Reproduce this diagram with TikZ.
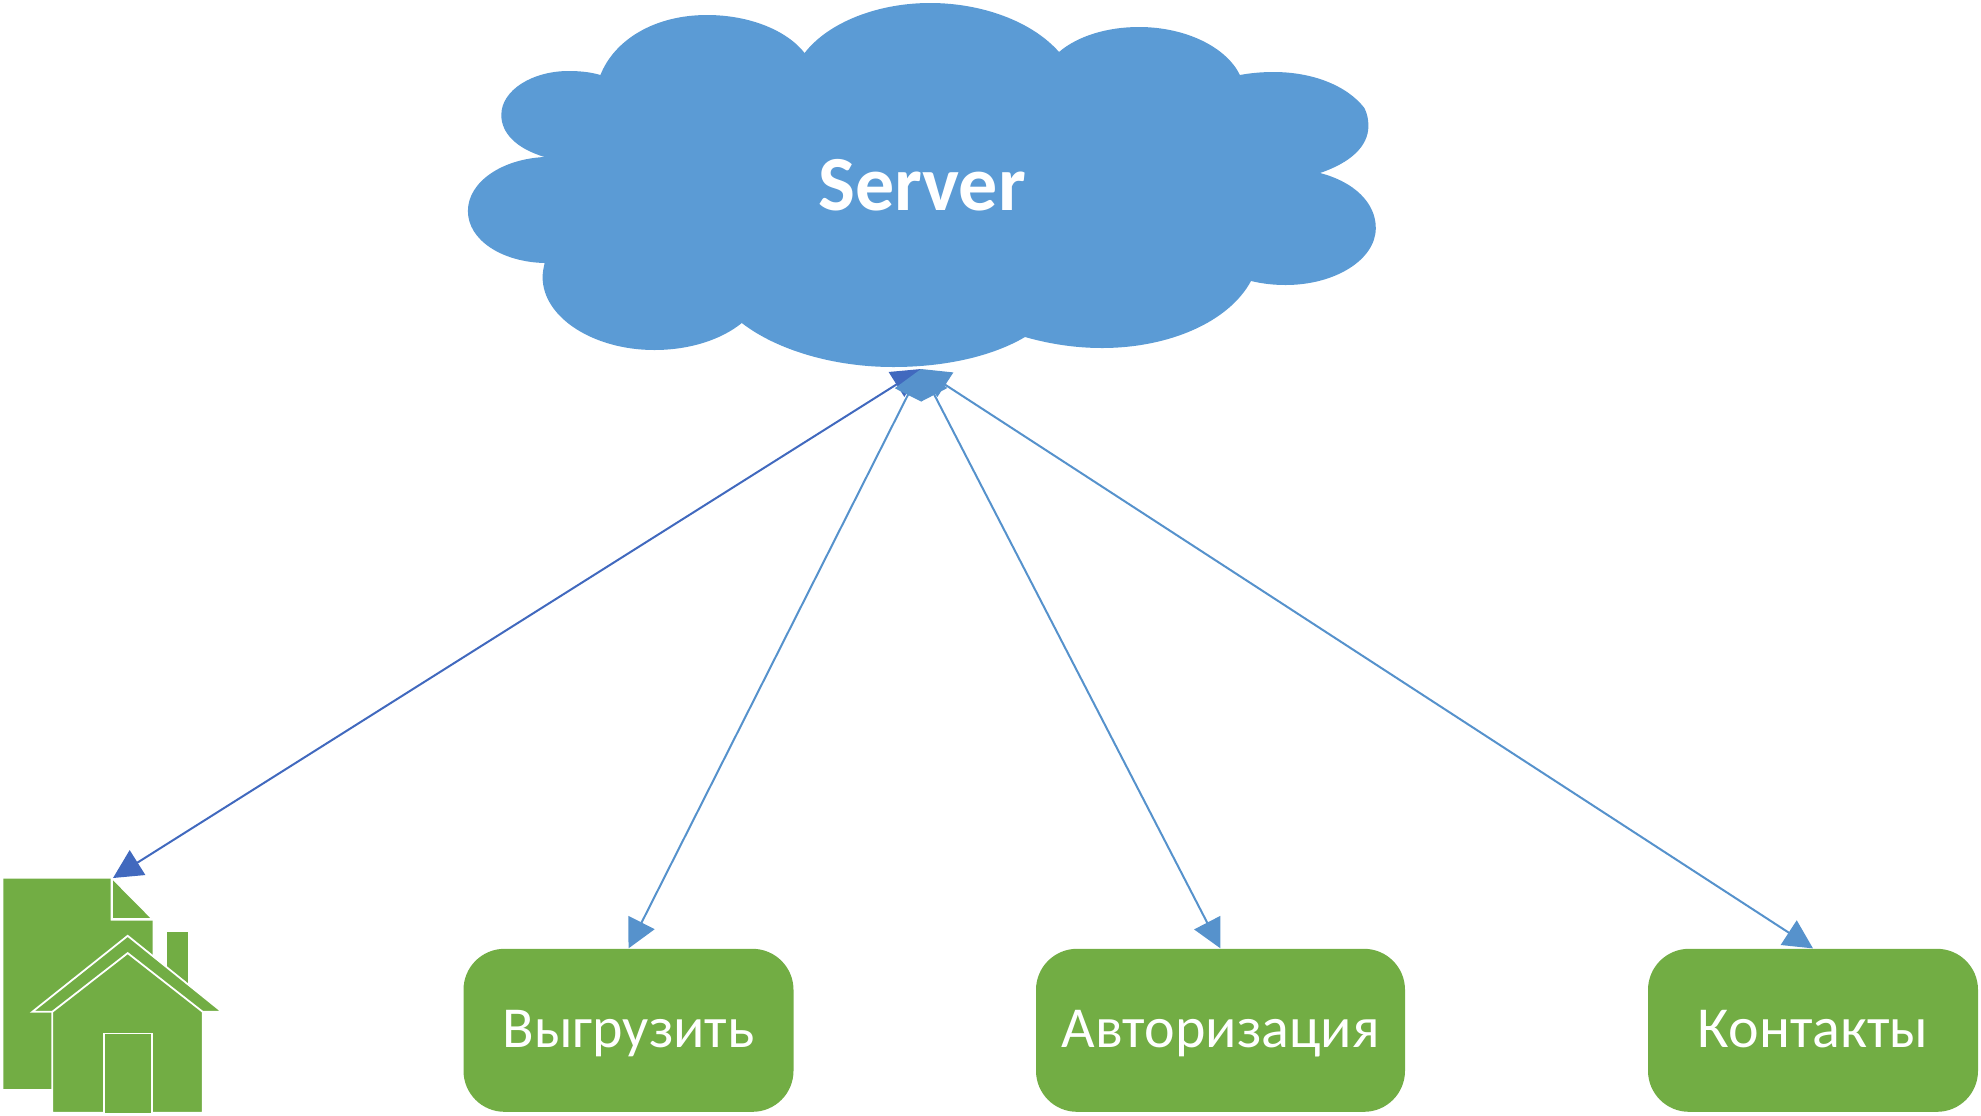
\documentclass[tikz,border=0pt]{standalone}
\usepackage{fontspec}
\setmainfont{Carlito}
\usetikzlibrary{arrows.meta}
\definecolor{cloudblue}{HTML}{5B9BD5}
\definecolor{arrowblue}{HTML}{5692CC}
\definecolor{homeblue}{HTML}{4169BE}
\definecolor{boxgreen}{HTML}{72AD44}
\tikzset{
	pagebox/.style={fill=boxgreen, text=white, rounded corners=20.5pt, minimum width=165pt, minimum height=81.5pt, inner sep=0pt, font=\fontsize{29}{29}\selectfont, text height=17.5pt, text depth=0pt},
	link/.style={line width=1pt, {Triangle[length=14.5pt,width=14.5pt]}-{Triangle[length=14.5pt,width=14.5pt]}},
	homepart/.style={fill=boxgreen, draw=white, line width=0.9pt, line join=miter}
}
\begin{document}
\begin{tikzpicture}[x=0.5pt, y=-0.5pt, line join=round]
	\useasboundingbox (0,0) rectangle (1981,1115);
	\path
	(921,369) coordinate (hub)
	(113,878) coordinate (home)
	;
	% cloud
	\fill[cloudblue] (544.6,157)
	.. controls (514.7,148) and (501.3,132) .. (501.3,115)
	.. controls (501.3,90) and (532.6,71) .. (568.5,71)
	.. controls (579.5,71) and (590.4,72) .. (600.4,75)
	.. controls (614.3,40) and (654.2,15) .. (707,15)
	.. controls (748.8,15) and (786.6,30) .. (804.6,53)
	.. controls (828.5,22) and (878.3,3) .. (930,3)
	.. controls (982.9,3) and (1032.7,22) .. (1059,52)
	.. controls (1077.5,36) and (1107.4,27) .. (1138.8,27)
	.. controls (1187,27) and (1226.9,48) .. (1239.9,75)
	.. controls (1250.8,73) and (1261.8,72) .. (1273.7,72)
	.. controls (1311.6,72) and (1346.5,85) .. (1364.4,108)
	.. controls (1367.4,114) and (1368.4,120) .. (1368.4,126)
	.. controls (1368.4,147) and (1349.4,163) .. (1320,173)
	.. controls (1354.4,182) and (1375.8,203) .. (1375.8,228)
	.. controls (1375.8,260) and (1334.5,285) .. (1285.7,285)
	.. controls (1274.7,285) and (1263.8,284) .. (1251,281)
	.. controls (1228.9,322) and (1169,348) .. (1101.9,348)
	.. controls (1075.5,348) and (1049.6,344) .. (1025,337)
	.. controls (992.8,356) and (946,367) .. (893.2,367)
	.. controls (833.5,367) and (776.7,350) .. (741.8,323)
	.. controls (720.9,340) and (689,350) .. (654.2,350)
	.. controls (594.4,350) and (542.6,318) .. (542.6,277)
	.. controls (542.6,272) and (543.6,268) .. (544.6,263)
	.. controls (501.8,262) and (467.9,240) .. (467.9,211)
	.. controls (467.9,182) and (501.8,159) .. (544.6,157)
	-- cycle;
	\node[text=white, font=\bfseries\fontsize{39}{39}\selectfont, text height=26pt, text depth=0pt, inner sep=0pt] (server) at (922,184) {Server};
	% pages
	\node[pagebox] (upload) at (628.5,1030.3) {Выгрузить};
	\node[pagebox, minimum width=184.5pt] (auth) at (1220.5,1030.3) {Авторизация};
	\node[pagebox] (contacts) at (1813,1030.3) {Контакты};
	% home icon
	\begin{scope}[yshift=-0.4pt]
	\fill[boxgreen] (3.3,877.7)--(110.7,877.7)--(110.7,919.7)--(152.7,919.7)--(152.7,1088)--(3.3,1088)--cycle;
	\fill[boxgreen] (112.7,879.3)--(151,918)--(112.7,918)--cycle;
	\draw[white, line width=0.9pt] (112.2,879)--(112.2,918.5)--(151,918.5);
	\fill[boxgreen] (166.7,931)--(188.3,931)--(188.3,995)--(166.7,995)--cycle;
	\draw[homepart] (127.7,935)--(222,1011)--(32.3,1011)--cycle;
	\draw[homepart] (127.7,952.3)--(202.7,1011)--(202.7,1112)--(52.3,1112)--(52.3,1011)--cycle;
	\draw[homepart] (104,1112)--(104,1032.7)--(151.7,1032.7)--(151.7,1112);
	\end{scope}
	% links
	\draw[link, homeblue] (hub)--(home);
	\foreach \p in {upload,auth,contacts}
	\draw[link, arrowblue] (hub)--(\p.north);
\end{tikzpicture}
\end{document}
